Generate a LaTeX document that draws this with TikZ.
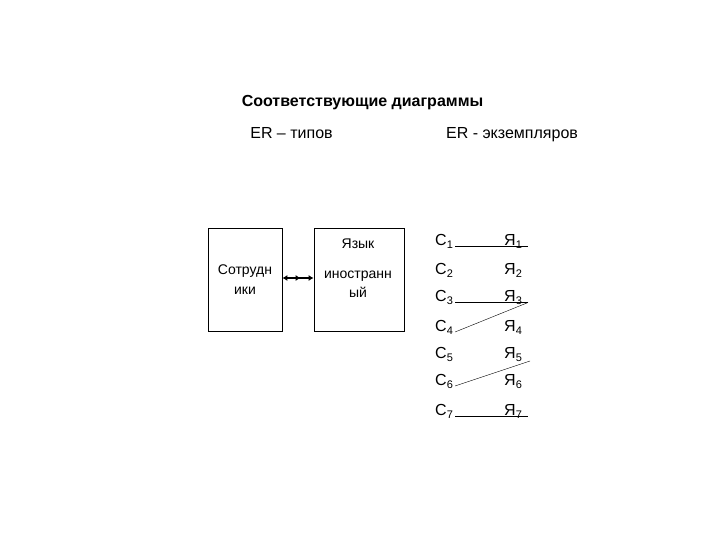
\documentclass[tikz,border=0pt]{standalone}
\usepackage{fontspec}
\setmainfont{Liberation Sans}
\usetikzlibrary{arrows.meta,positioning}
\newcommand\lowidx[1]{\raisebox{-3.5pt}{\fontsize{11}{11}\selectfont#1}}
\tikzset{
  entity/.style={draw,thick,align=center,font=\fontsize{14}{20}\selectfont},
  inst/.style={inner xsep=2pt,inner ysep=1pt,font=\fontsize{16}{18}\selectfont,anchor=base west},
  link/.style={thin}
}
\begin{document}
\begin{tikzpicture}[x=1pt,y=-1pt]
\useasboundingbox (0,0) rectangle (720,540);
\node[font=\bfseries\fontsize{16}{18}\selectfont,anchor=base] (title) at (362.5,107) {Соответствующие диаграммы};
\node[font=\fontsize{16}{18}\selectfont,anchor=base] (types) at (291.5,139) {ER -- типов};
\node[font=\fontsize{16}{18}\selectfont,anchor=base] (insts) at (512,139) {ER - экземпляров};

\node[entity,minimum width=74,minimum height=103] (emp) at (245,280) {Сотрудн\\ики};
\node[entity,minimum width=90,minimum height=103] (lang) at (359,280) {};
\node[align=center,font=\fontsize{14}{19}\selectfont] (langtext) at (358,268) {Язык\\[11pt]иностранн\\ый};
\draw[line width=1.3pt,{Latex[length=5pt,width=6pt]}-{Latex[length=5pt,width=6pt,sep=8pt]Latex[length=5pt,width=6pt]}] ([yshift=2pt]emp.east) -- ([yshift=2pt]lang.west);

\node[inst] (c1) at (433,245) {С\lowidx{1}};
\node[inst] (c2) at (433,274) {С\lowidx{2}};
\node[inst] (c3) at (433,301) {С\lowidx{3}};
\node[inst] (c4) at (433,331) {С\lowidx{4}};
\node[inst] (c5) at (433,358) {С\lowidx{5}};
\node[inst] (c6) at (433,385) {С\lowidx{6}};
\node[inst] (c7) at (433,415) {С\lowidx{7}};
\node[inst] (y1) at (502,245) {Я\lowidx{1}};
\node[inst] (y2) at (502,274) {Я\lowidx{2}};
\node[inst] (y3) at (502,301) {Я\lowidx{3}};
\node[inst] (y4) at (502,331) {Я\lowidx{4}};
\node[inst] (y5) at (502,358) {Я\lowidx{5}};
\node[inst] (y6) at (502,385) {Я\lowidx{6}};
\node[inst] (y7) at (502,415) {Я\lowidx{7}};

\draw[link] ([yshift=-1.5pt]c1.base east) -- ([xshift=4pt,yshift=-1.5pt]y1.base east);
\draw[link] ([yshift=-1.5pt]c3.base east) -- ([xshift=4pt,yshift=-1.5pt]y3.base east);
\draw[link] ([yshift=-1pt]c4.base east) -- ([xshift=4pt,yshift=-1.5pt]y3.base east);
\draw[link] ([yshift=-1pt]c6.base east) -- ([xshift=6pt,yshift=-3pt]y5.base east);
\draw[link] ([yshift=-1pt]c7.base east) -- ([xshift=4pt,yshift=-1pt]y7.base east);
\end{tikzpicture}
\end{document}
